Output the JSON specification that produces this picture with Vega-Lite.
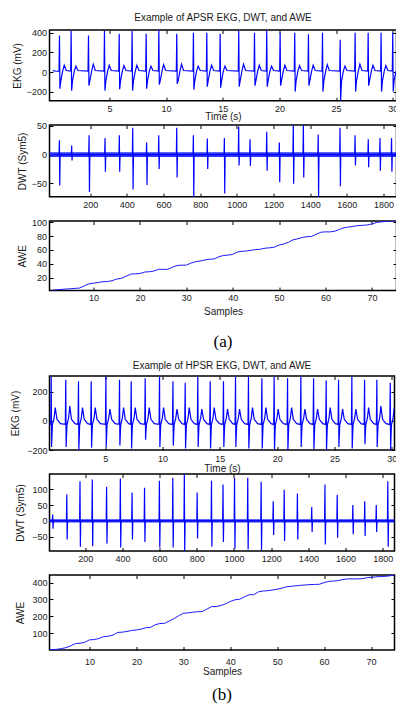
{
"$schema": "https://vega.github.io/schema/vega-lite/v6.json",
"background": "white",
"padding": {"left": 9.5, "top": 12, "right": 0, "bottom": 0},
"bounds": "flush",
"spacing": 24,
"config": {
 "font": "Liberation Sans",
 "view": {"stroke": "black", "strokeWidth": 1.5},
 "axis": {"grid": false, "domain": false, "ticks": true, "tickSize": -3.5, "tickColor": "black", "tickWidth": 1, "labelFont": "Liberation Sans", "labelFontSize": 9, "labelColor": "#1a1a1a", "labelFlush": false, "labelOverlap": false, "format": "d", "titleFont": "Liberation Sans", "titleFontSize": 10, "titleFontWeight": "normal", "titleColor": "#1a1a1a"},
 "title": {"font": "Liberation Sans", "fontSize": 10, "fontWeight": "normal", "color": "#1a1a1a"}
},
"datasets": {
 "ekg_a": [
  {"t":0,"v":15},{"t":0.3,"v":8},
  {"t":0.55,"v":10},{"t":0.59,"v":373},{"t":0.63,"v":-170},{"t":0.71,"v":-90},{"t":0.87,"v":10},{"t":1.01,"v":70},{"t":1.19,"v":15},
  {"t":1.58,"v":10},{"t":1.62,"v":420},{"t":1.66,"v":-190},{"t":1.74,"v":-90},{"t":1.9,"v":10},{"t":2.04,"v":60},{"t":2.22,"v":15},
  {"t":3.11,"v":10},{"t":3.15,"v":373},{"t":3.19,"v":-140},{"t":3.27,"v":-90},{"t":3.43,"v":10},{"t":3.57,"v":80},{"t":3.75,"v":15},
  {"t":4.52,"v":10},{"t":4.56,"v":420},{"t":4.6,"v":-190},{"t":4.68,"v":-90},{"t":4.84,"v":10},{"t":4.98,"v":70},{"t":5.16,"v":15},
  {"t":5.82,"v":10},{"t":5.86,"v":390},{"t":5.9,"v":-175},{"t":5.98,"v":-90},{"t":6.14,"v":10},{"t":6.28,"v":65},{"t":6.46,"v":15},
  {"t":6.96,"v":10},{"t":7.0,"v":420},{"t":7.04,"v":-190},{"t":7.12,"v":-90},{"t":7.28,"v":10},{"t":7.42,"v":70},{"t":7.6,"v":15},
  {"t":8.2,"v":10},{"t":8.24,"v":390},{"t":8.28,"v":-170},{"t":8.36,"v":-90},{"t":8.52,"v":10},{"t":8.66,"v":60},{"t":8.84,"v":15},
  {"t":9.32,"v":10},{"t":9.36,"v":430},{"t":9.4,"v":-130},{"t":9.48,"v":-90},{"t":9.64,"v":10},{"t":9.78,"v":75},{"t":9.96,"v":15},
  {"t":10.9,"v":10},{"t":10.94,"v":390},{"t":10.98,"v":-120},{"t":11.06,"v":-90},{"t":11.22,"v":10},{"t":11.36,"v":80},{"t":11.54,"v":15},
  {"t":12.37,"v":10},{"t":12.41,"v":400},{"t":12.45,"v":-180},{"t":12.53,"v":-90},{"t":12.69,"v":10},{"t":12.83,"v":60},{"t":13.01,"v":15},
  {"t":13.55,"v":10},{"t":13.59,"v":400},{"t":13.63,"v":-150},{"t":13.71,"v":-90},{"t":13.87,"v":10},{"t":14.01,"v":70},{"t":14.19,"v":15},
  {"t":14.73,"v":10},{"t":14.77,"v":390},{"t":14.81,"v":-160},{"t":14.89,"v":-90},{"t":15.05,"v":10},{"t":15.19,"v":60},{"t":15.37,"v":15},
  {"t":16.37,"v":10},{"t":16.41,"v":420},{"t":16.45,"v":-150},{"t":16.53,"v":-90},{"t":16.69,"v":10},{"t":16.83,"v":80},{"t":17.01,"v":15},
  {"t":17.76,"v":10},{"t":17.8,"v":400},{"t":17.84,"v":-140},{"t":17.92,"v":-90},{"t":18.08,"v":10},{"t":18.22,"v":70},{"t":18.4,"v":15},
  {"t":18.84,"v":10},{"t":18.88,"v":420},{"t":18.92,"v":-150},{"t":19.0,"v":-90},{"t":19.16,"v":10},{"t":19.3,"v":60},{"t":19.48,"v":15},
  {"t":20.02,"v":10},{"t":20.06,"v":400},{"t":20.1,"v":-140},{"t":20.18,"v":-90},{"t":20.34,"v":10},{"t":20.48,"v":70},{"t":20.66,"v":15},
  {"t":21.31,"v":10},{"t":21.35,"v":400},{"t":21.39,"v":-200},{"t":21.47,"v":-90},{"t":21.63,"v":10},{"t":21.77,"v":65},{"t":21.95,"v":15},
  {"t":22.52,"v":10},{"t":22.56,"v":385},{"t":22.6,"v":-140},{"t":22.68,"v":-90},{"t":22.84,"v":10},{"t":22.98,"v":70},{"t":23.16,"v":15},
  {"t":23.76,"v":10},{"t":23.8,"v":400},{"t":23.84,"v":-200},{"t":23.92,"v":-90},{"t":24.08,"v":10},{"t":24.22,"v":75},{"t":24.4,"v":15},
  {"t":25.32,"v":10},{"t":25.36,"v":330},{"t":25.4,"v":-290},{"t":25.48,"v":-90},{"t":25.64,"v":10},{"t":25.78,"v":60},{"t":25.96,"v":15},
  {"t":26.64,"v":10},{"t":26.68,"v":400},{"t":26.72,"v":-200},{"t":26.8,"v":-90},{"t":26.96,"v":10},{"t":27.1,"v":80},{"t":27.28,"v":15},
  {"t":27.79,"v":10},{"t":27.83,"v":400},{"t":27.87,"v":-140},{"t":27.95,"v":-90},{"t":28.11,"v":10},{"t":28.25,"v":70},{"t":28.43,"v":15},
  {"t":28.93,"v":10},{"t":28.97,"v":400},{"t":29.01,"v":-200},{"t":29.09,"v":-90},{"t":29.25,"v":10},{"t":29.39,"v":65},{"t":29.57,"v":15},
  {"t":29.96,"v":10},{"t":30.0,"v":400},{"t":30.04,"v":-200},{"t":30.12,"v":-90},{"t":30.28,"v":10}
 ],
 "dwt_a": [
  {"s":0,"v":0},
  {"s":30,"v":0},{"s":32,"v":25},{"s":34,"v":-54},{"s":36,"v":0},
  {"s":97,"v":0},{"s":99,"v":16},{"s":101,"v":-10},{"s":103,"v":0},
  {"s":192,"v":0},{"s":194,"v":34},{"s":196,"v":-65},{"s":198,"v":0},
  {"s":279,"v":0},{"s":281,"v":29},{"s":283,"v":-30},{"s":285,"v":0},
  {"s":357,"v":0},{"s":359,"v":34},{"s":361,"v":-30},{"s":363,"v":0},
  {"s":430,"v":0},{"s":432,"v":47},{"s":434,"v":-61},{"s":436,"v":0},
  {"s":506,"v":0},{"s":508,"v":21},{"s":510,"v":-53},{"s":512,"v":0},
  {"s":572,"v":0},{"s":574,"v":34},{"s":576,"v":-25},{"s":578,"v":0},
  {"s":670,"v":0},{"s":672,"v":47},{"s":674,"v":-40},{"s":676,"v":0},
  {"s":761,"v":0},{"s":763,"v":34},{"s":765,"v":-75},{"s":767,"v":0},
  {"s":837,"v":0},{"s":839,"v":28},{"s":841,"v":-25},{"s":843,"v":0},
  {"s":930,"v":0},{"s":932,"v":29},{"s":934,"v":-68},{"s":936,"v":0},
  {"s":1008,"v":0},{"s":1010,"v":49},{"s":1012,"v":-19},{"s":1014,"v":0},
  {"s":1070,"v":0},{"s":1072,"v":27},{"s":1074,"v":-20},{"s":1076,"v":0},
  {"s":1161,"v":0},{"s":1163,"v":40},{"s":1165,"v":-28},{"s":1167,"v":0},
  {"s":1230,"v":0},{"s":1232,"v":21},{"s":1234,"v":-48},{"s":1236,"v":0},
  {"s":1306,"v":0},{"s":1308,"v":55},{"s":1310,"v":-51},{"s":1312,"v":0},
  {"s":1361,"v":0},{"s":1363,"v":55},{"s":1365,"v":-40},{"s":1367,"v":0},
  {"s":1442,"v":0},{"s":1444,"v":35},{"s":1446,"v":-75},{"s":1448,"v":0},
  {"s":1561,"v":0},{"s":1563,"v":47},{"s":1565,"v":-55},{"s":1567,"v":0},
  {"s":1643,"v":0},{"s":1645,"v":34},{"s":1647,"v":-19},{"s":1649,"v":0},
  {"s":1715,"v":0},{"s":1717,"v":27},{"s":1719,"v":-22},{"s":1721,"v":0},
  {"s":1779,"v":0},{"s":1781,"v":29},{"s":1783,"v":-28},{"s":1785,"v":0},
  {"s":1842,"v":0},{"s":1844,"v":29},{"s":1846,"v":-30},{"s":1848,"v":0},
  {"s":1871,"v":0}
 ],
 "band_a": [{"s":-22,"lo":-4,"hi":4},{"s":1871,"lo":-4,"hi":4}],
 "awe_a": [
  {"s":1,"v":1.5},{"s":2,"v":2.5},{"s":3,"v":3},{"s":4,"v":3.5},{"s":5,"v":4},{"s":6,"v":4.5},{"s":7,"v":5},{"s":8,"v":8},{"s":9,"v":11},{"s":10,"v":12},
  {"s":11,"v":13},{"s":12,"v":14},{"s":13,"v":14.5},{"s":14,"v":15.5},{"s":15,"v":18},{"s":16,"v":19},{"s":17,"v":22},{"s":18,"v":25},{"s":19,"v":25.5},{"s":20,"v":26},
  {"s":21,"v":28},{"s":22,"v":28.5},{"s":23,"v":29.5},{"s":24,"v":32},{"s":25,"v":32},{"s":26,"v":32},{"s":27,"v":35},{"s":28,"v":37.5},{"s":29,"v":38},{"s":30,"v":38},
  {"s":31,"v":41},{"s":32,"v":43},{"s":33,"v":44},{"s":34,"v":45.5},{"s":35,"v":46.5},{"s":36,"v":47},{"s":37,"v":50},{"s":38,"v":52},{"s":39,"v":52.5},{"s":40,"v":53.5},
  {"s":41,"v":57},{"s":42,"v":58},{"s":43,"v":58.5},{"s":44,"v":59.5},{"s":45,"v":60.5},{"s":46,"v":61},{"s":47,"v":62.5},{"s":48,"v":63},{"s":49,"v":64},{"s":50,"v":67},
  {"s":51,"v":68.5},{"s":52,"v":71},{"s":53,"v":74.5},{"s":54,"v":76},{"s":55,"v":78},{"s":56,"v":79},{"s":57,"v":79.5},{"s":58,"v":82.5},{"s":59,"v":85.5},{"s":60,"v":86},
  {"s":61,"v":86},{"s":62,"v":87},{"s":63,"v":89.5},{"s":64,"v":92},{"s":65,"v":93},{"s":66,"v":94},{"s":67,"v":95},{"s":68,"v":95.5},{"s":69,"v":96},{"s":70,"v":97.5},
  {"s":71,"v":99.5},{"s":72,"v":100.5},{"s":73,"v":101},{"s":74,"v":101.5},{"s":75,"v":101.5}
 ],
 "ekg_b": [
  {"t":0,"v":-10},{"t":0.2,"v":-25},
  {"t":0.25,"v":-25},{"t":0.29,"v":300},{"t":0.32,"v":-180},{"t":0.39,"v":-30},{"t":0.54,"v":20},{"t":0.64,"v":90},{"t":0.79,"v":10},{"t":1.09,"v":-20},
  {"t":1.52,"v":-25},{"t":1.56,"v":280},{"t":1.59,"v":-180},{"t":1.66,"v":-30},{"t":1.81,"v":20},{"t":1.91,"v":100},{"t":2.06,"v":10},{"t":2.36,"v":-20},
  {"t":2.63,"v":-25},{"t":2.67,"v":270},{"t":2.7,"v":-200},{"t":2.77,"v":-30},{"t":2.92,"v":20},{"t":3.02,"v":90},{"t":3.17,"v":10},{"t":3.47,"v":-20},
  {"t":3.74,"v":-25},{"t":3.78,"v":270},{"t":3.81,"v":-185},{"t":3.88,"v":-30},{"t":4.03,"v":20},{"t":4.13,"v":90},{"t":4.28,"v":10},{"t":4.58,"v":-20},
  {"t":5.02,"v":-25},{"t":5.06,"v":300},{"t":5.09,"v":-180},{"t":5.16,"v":-30},{"t":5.31,"v":20},{"t":5.41,"v":80},{"t":5.56,"v":10},{"t":5.86,"v":-20},
  {"t":6.21,"v":-25},{"t":6.25,"v":280},{"t":6.28,"v":-170},{"t":6.35,"v":-30},{"t":6.5,"v":20},{"t":6.6,"v":90},{"t":6.75,"v":10},{"t":7.05,"v":-20},
  {"t":7.23,"v":-25},{"t":7.27,"v":270},{"t":7.3,"v":-190},{"t":7.37,"v":-30},{"t":7.52,"v":20},{"t":7.62,"v":90},{"t":7.77,"v":10},{"t":8.07,"v":-20},
  {"t":8.45,"v":-25},{"t":8.49,"v":290},{"t":8.52,"v":-130},{"t":8.59,"v":-30},{"t":8.74,"v":20},{"t":8.84,"v":90},{"t":8.99,"v":10},{"t":9.29,"v":-20},
  {"t":9.7,"v":-25},{"t":9.74,"v":300},{"t":9.77,"v":-180},{"t":9.84,"v":-30},{"t":9.99,"v":20},{"t":10.09,"v":90},{"t":10.24,"v":10},{"t":10.54,"v":-20},
  {"t":10.87,"v":-25},{"t":10.91,"v":270},{"t":10.94,"v":-170},{"t":11.01,"v":-30},{"t":11.16,"v":20},{"t":11.26,"v":80},{"t":11.41,"v":10},{"t":11.71,"v":-20},
  {"t":11.94,"v":-25},{"t":11.98,"v":260},{"t":12.01,"v":-190},{"t":12.08,"v":-30},{"t":12.23,"v":20},{"t":12.33,"v":90},{"t":12.48,"v":10},{"t":12.78,"v":-20},
  {"t":13.04,"v":-25},{"t":13.08,"v":300},{"t":13.11,"v":-180},{"t":13.18,"v":-30},{"t":13.33,"v":20},{"t":13.43,"v":80},{"t":13.58,"v":10},{"t":13.88,"v":-20},
  {"t":14.12,"v":-25},{"t":14.16,"v":270},{"t":14.19,"v":-190},{"t":14.26,"v":-30},{"t":14.41,"v":20},{"t":14.51,"v":90},{"t":14.66,"v":10},{"t":14.96,"v":-20},
  {"t":15.28,"v":-25},{"t":15.32,"v":270},{"t":15.35,"v":-180},{"t":15.42,"v":-30},{"t":15.57,"v":20},{"t":15.67,"v":80},{"t":15.82,"v":10},{"t":16.12,"v":-20},
  {"t":16.33,"v":-25},{"t":16.37,"v":300},{"t":16.4,"v":-180},{"t":16.47,"v":-30},{"t":16.62,"v":20},{"t":16.72,"v":80},{"t":16.87,"v":10},{"t":17.17,"v":-20},
  {"t":17.46,"v":-25},{"t":17.5,"v":300},{"t":17.53,"v":-190},{"t":17.6,"v":-30},{"t":17.75,"v":20},{"t":17.85,"v":90},{"t":18.0,"v":10},{"t":18.3,"v":-20},
  {"t":18.63,"v":-25},{"t":18.67,"v":290},{"t":18.7,"v":-190},{"t":18.77,"v":-30},{"t":18.92,"v":20},{"t":19.02,"v":90},{"t":19.17,"v":10},{"t":19.47,"v":-20},
  {"t":19.7,"v":-25},{"t":19.74,"v":300},{"t":19.77,"v":-195},{"t":19.84,"v":-30},{"t":19.99,"v":20},{"t":20.09,"v":80},{"t":20.24,"v":10},{"t":20.54,"v":-20},
  {"t":20.87,"v":-25},{"t":20.91,"v":290},{"t":20.94,"v":-200},{"t":21.01,"v":-30},{"t":21.16,"v":20},{"t":21.26,"v":90},{"t":21.41,"v":10},{"t":21.71,"v":-20},
  {"t":22.03,"v":-25},{"t":22.07,"v":300},{"t":22.1,"v":-180},{"t":22.17,"v":-30},{"t":22.32,"v":20},{"t":22.42,"v":80},{"t":22.57,"v":10},{"t":22.87,"v":-20},
  {"t":23.14,"v":-25},{"t":23.18,"v":290},{"t":23.21,"v":-195},{"t":23.28,"v":-30},{"t":23.43,"v":20},{"t":23.53,"v":80},{"t":23.68,"v":10},{"t":23.98,"v":-20},
  {"t":24.24,"v":-25},{"t":24.28,"v":275},{"t":24.31,"v":-200},{"t":24.38,"v":-30},{"t":24.53,"v":20},{"t":24.63,"v":90},{"t":24.78,"v":10},{"t":25.08,"v":-20},
  {"t":25.32,"v":-25},{"t":25.36,"v":280},{"t":25.39,"v":-180},{"t":25.46,"v":-30},{"t":25.61,"v":20},{"t":25.71,"v":80},{"t":25.86,"v":10},{"t":26.16,"v":-20},
  {"t":26.48,"v":-25},{"t":26.52,"v":300},{"t":26.55,"v":-190},{"t":26.62,"v":-30},{"t":26.77,"v":20},{"t":26.87,"v":80},{"t":27.02,"v":10},{"t":27.32,"v":-20},
  {"t":27.59,"v":-25},{"t":27.63,"v":280},{"t":27.66,"v":-160},{"t":27.73,"v":-30},{"t":27.88,"v":20},{"t":27.98,"v":90},{"t":28.13,"v":10},{"t":28.43,"v":-20},
  {"t":28.66,"v":-25},{"t":28.7,"v":280},{"t":28.73,"v":-180},{"t":28.8,"v":-30},{"t":28.95,"v":20},{"t":29.05,"v":100},{"t":29.2,"v":10},{"t":29.5,"v":-20},
  {"t":29.83,"v":-25},{"t":29.87,"v":260},{"t":29.9,"v":-200},{"t":29.97,"v":-30},{"t":30.12,"v":20},{"t":30.22,"v":90}
 ],
 "dwt_b": [
  {"s":0,"v":0},
  {"s":23,"v":0},{"s":25,"v":20},{"s":27,"v":-25},{"s":29,"v":0},
  {"s":99,"v":0},{"s":101,"v":84},{"s":103,"v":-59},{"s":105,"v":0},
  {"s":170,"v":0},{"s":172,"v":126},{"s":174,"v":-82},{"s":176,"v":0},
  {"s":236,"v":0},{"s":238,"v":131},{"s":240,"v":-80},{"s":242,"v":0},
  {"s":313,"v":0},{"s":315,"v":108},{"s":317,"v":-72},{"s":319,"v":0},
  {"s":387,"v":0},{"s":389,"v":134},{"s":391,"v":-84},{"s":393,"v":0},
  {"s":450,"v":0},{"s":452,"v":90},{"s":454,"v":-59},{"s":456,"v":0},
  {"s":517,"v":0},{"s":519,"v":105},{"s":521,"v":-67},{"s":523,"v":0},
  {"s":597,"v":0},{"s":599,"v":127},{"s":601,"v":-84},{"s":603,"v":0},
  {"s":669,"v":0},{"s":671,"v":137},{"s":673,"v":-84},{"s":675,"v":0},
  {"s":731,"v":0},{"s":733,"v":150},{"s":735,"v":-100},{"s":737,"v":0},
  {"s":800,"v":0},{"s":802,"v":90},{"s":804,"v":-56},{"s":806,"v":0},
  {"s":877,"v":0},{"s":879,"v":127},{"s":881,"v":-82},{"s":883,"v":0},
  {"s":939,"v":0},{"s":941,"v":115},{"s":943,"v":-67},{"s":945,"v":0},
  {"s":1001,"v":0},{"s":1003,"v":136},{"s":1005,"v":-88},{"s":1007,"v":0},
  {"s":1072,"v":0},{"s":1074,"v":137},{"s":1076,"v":-91},{"s":1078,"v":0},
  {"s":1144,"v":0},{"s":1146,"v":124},{"s":1148,"v":-93},{"s":1150,"v":0},
  {"s":1209,"v":0},{"s":1211,"v":62},{"s":1213,"v":-45},{"s":1215,"v":0},
  {"s":1268,"v":0},{"s":1270,"v":99},{"s":1272,"v":-64},{"s":1274,"v":0},
  {"s":1339,"v":0},{"s":1341,"v":87},{"s":1343,"v":-59},{"s":1345,"v":0},
  {"s":1416,"v":0},{"s":1418,"v":44},{"s":1420,"v":-35},{"s":1422,"v":0},
  {"s":1487,"v":0},{"s":1489,"v":115},{"s":1491,"v":-75},{"s":1493,"v":0},
  {"s":1553,"v":0},{"s":1555,"v":83},{"s":1557,"v":-53},{"s":1559,"v":0},
  {"s":1637,"v":0},{"s":1639,"v":50},{"s":1641,"v":-42},{"s":1643,"v":0},
  {"s":1701,"v":0},{"s":1703,"v":62},{"s":1705,"v":-48},{"s":1707,"v":0},
  {"s":1763,"v":0},{"s":1765,"v":50},{"s":1767,"v":-35},{"s":1769,"v":0},
  {"s":1825,"v":0},{"s":1827,"v":126},{"s":1829,"v":-82},{"s":1831,"v":0},
  {"s":1863,"v":0}
 ],
 "band_b": [{"s":8,"lo":-5,"hi":5},{"s":1863,"lo":-5,"hi":5}],
 "awe_b": [
  {"s":1,"v":0},{"s":2,"v":2},{"s":3,"v":4},{"s":4,"v":8},{"s":5,"v":14},{"s":6,"v":25},{"s":7,"v":38},{"s":8,"v":40},{"s":9,"v":46},{"s":10,"v":60},
  {"s":11,"v":62},{"s":12,"v":68},{"s":13,"v":79},{"s":14,"v":82},{"s":15,"v":88},{"s":16,"v":104},{"s":17,"v":106},{"s":18,"v":110},{"s":19,"v":116},{"s":20,"v":119},
  {"s":21,"v":124},{"s":22,"v":132},{"s":23,"v":134},{"s":24,"v":150},{"s":25,"v":157},{"s":26,"v":158},{"s":27,"v":172},{"s":28,"v":186},{"s":29,"v":203},{"s":30,"v":218},
  {"s":31,"v":220},{"s":32,"v":224},{"s":33,"v":227},{"s":34,"v":228},{"s":35,"v":242},{"s":36,"v":257},{"s":37,"v":258},{"s":38,"v":264},{"s":39,"v":274},{"s":40,"v":288},
  {"s":41,"v":298},{"s":42,"v":301},{"s":43,"v":315},{"s":44,"v":328},{"s":45,"v":328},{"s":46,"v":345},{"s":47,"v":350},{"s":48,"v":352},{"s":49,"v":356},{"s":50,"v":361},
  {"s":51,"v":367},{"s":52,"v":375},{"s":53,"v":378},{"s":54,"v":381},{"s":55,"v":384},{"s":56,"v":386},{"s":57,"v":388},{"s":58,"v":389},{"s":59,"v":390},{"s":60,"v":400},
  {"s":61,"v":407},{"s":62,"v":409},{"s":63,"v":412},{"s":64,"v":418},{"s":65,"v":422},{"s":66,"v":422},{"s":67,"v":422},{"s":68,"v":423},{"s":69,"v":428},{"s":70,"v":432},
  {"s":71,"v":434},{"s":72,"v":436},{"s":73,"v":437},{"s":74,"v":440},{"s":75,"v":445}
 ]
},
"vconcat": [
 {
  "title": {"text": "Example of APSR EKG, DWT, and AWE", "offset": 6},
  "width": 347, "height": 70.7,
  "data": {"name": "ekg_a"},
  "layer": [
   {"mark": {"type": "line", "color": "#0000ff", "strokeWidth": 1.2, "clip": true},
    "encoding": {
     "x": {"field": "t", "type": "quantitative", "scale": {"domain": [-0.29, 30.33], "nice": false, "zero": false}, "axis": {"orient": "bottom", "values": [5,10,15,20,25,30], "title": "Time (s)", "labelPadding": 7.5, "titlePadding": -2.7}},
     "y": {"field": "v", "type": "quantitative", "scale": {"domain": [-293, 429], "nice": false, "zero": false}, "axis": {"orient": "left", "values": [-200,0,200,400], "title": "EKG (mV)", "labelPadding": 6.5, "titlePadding": 4}}
    }},
   {"mark": {"type": "line", "strokeOpacity": 0},
    "encoding": {
     "x": {"field": "t", "type": "quantitative", "scale": {"domain": [-0.29, 30.33], "nice": false, "zero": false}, "axis": {"orient": "top", "values": [5,10,15,20,25,30], "labels": false, "title": null}},
     "y": {"field": "v", "type": "quantitative", "scale": {"domain": [-293, 429], "nice": false, "zero": false}, "axis": {"orient": "right", "values": [-200,0,200,400], "labels": false, "title": null}}
    }}
  ],
  "resolve": {"axis": {"x": "independent", "y": "independent"}}
 },
 {
  "width": 347, "height": 71.7,
  "layer": [
   {"data": {"name": "band_a"},
    "mark": {"type": "area", "color": "#0a14ff", "opacity": 0.85, "clip": true},
    "encoding": {
     "x": {"field": "s", "type": "quantitative", "scale": {"domain": [-22, 1871], "nice": false, "zero": false}, "axis": {"orient": "top", "values": [200,400,600,800,1000,1200,1400,1600,1800], "labels": false, "title": null}},
     "y": {"field": "lo", "type": "quantitative", "scale": {"domain": [-73.4, 51.7], "nice": false, "zero": false}, "axis": {"orient": "right", "values": [-50,0,50], "labels": false, "title": null}},
     "y2": {"field": "hi"}
    }},
   {"data": {"name": "dwt_a"},
    "mark": {"type": "line", "color": "#0000ff", "strokeWidth": 1.2, "clip": true},
    "encoding": {
     "x": {"field": "s", "type": "quantitative", "scale": {"domain": [-22, 1871], "nice": false, "zero": false}, "axis": {"orient": "bottom", "values": [200,400,600,800,1000,1200,1400,1600,1800], "title": null, "labelPadding": 6.8}},
     "y": {"field": "v", "type": "quantitative", "scale": {"domain": [-73.4, 51.7], "nice": false, "zero": false}, "axis": {"orient": "left", "values": [-50,0,50], "title": "DWT (Sym5)", "labelPadding": 6.5, "titlePadding": 3.8}}
    }}
  ],
  "resolve": {"axis": {"x": "independent", "y": "independent"}}
 },
 {
  "width": 347, "height": 69.6,
  "data": {"name": "awe_a"},
  "layer": [
   {"mark": {"type": "line", "color": "#1a1aff", "strokeWidth": 1, "clip": true},
    "encoding": {
     "x": {"field": "s", "type": "quantitative", "scale": {"domain": [0.52, 75.3], "nice": false, "zero": false}, "axis": {"orient": "bottom", "values": [10,20,30,40,50,60,70], "title": "Samples", "labelPadding": 6.6, "titlePadding": 3.6}},
     "y": {"field": "v", "type": "quantitative", "scale": {"domain": [1.3, 101.7], "nice": false, "zero": false}, "axis": {"orient": "left", "values": [20,40,60,80,100], "title": "AWE", "labelPadding": 6.5, "titlePadding": 4.3}}
    }},
   {"mark": {"type": "line", "strokeOpacity": 0},
    "encoding": {
     "x": {"field": "s", "type": "quantitative", "scale": {"domain": [0.52, 75.3], "nice": false, "zero": false}, "axis": {"orient": "top", "values": [10,20,30,40,50,60,70], "labels": false, "title": null}},
     "y": {"field": "v", "type": "quantitative", "scale": {"domain": [1.3, 101.7], "nice": false, "zero": false}, "axis": {"orient": "right", "values": [20,40,60,80,100], "labels": false, "title": null}}
    }}
  ],
  "resolve": {"axis": {"x": "independent", "y": "independent"}}
 },
 {
  "width": 347, "height": 37,
  "view": {"stroke": null},
  "data": {"values": [{"label": "(a)"}]},
  "mark": {"type": "text", "font": "Liberation Serif", "fontSize": 17, "baseline": "alphabetic", "dy": 13.2, "color": "black"},
  "encoding": {"text": {"field": "label", "type": "nominal"}}
 },
 {
  "title": {"text": "Example of HPSR EKG, DWT, and AWE", "offset": 4.5},
  "width": 345, "height": 74,
  "data": {"name": "ekg_b"},
  "layer": [
   {"mark": {"type": "line", "color": "#0000ff", "strokeWidth": 1.2, "clip": true},
    "encoding": {
     "x": {"field": "t", "type": "quantitative", "scale": {"domain": [0.14, 30.24], "nice": false, "zero": false}, "axis": {"orient": "bottom", "values": [5,10,15,20,25,30], "title": "Time (s)", "labelPadding": 7.5, "titlePadding": 0.5}},
     "y": {"field": "v", "type": "quantitative", "scale": {"domain": [-200, 306], "nice": false, "zero": false}, "axis": {"orient": "left", "values": [-200,0,200], "title": "EKG (mV)", "labelPadding": 6, "titlePadding": 6}}
    }},
   {"mark": {"type": "line", "strokeOpacity": 0},
    "encoding": {
     "x": {"field": "t", "type": "quantitative", "scale": {"domain": [0.14, 30.24], "nice": false, "zero": false}, "axis": {"orient": "top", "values": [5,10,15,20,25,30], "labels": false, "title": null}},
     "y": {"field": "v", "type": "quantitative", "scale": {"domain": [-200, 306], "nice": false, "zero": false}, "axis": {"orient": "right", "values": [-200,0,200], "labels": false, "title": null}}
    }}
  ],
  "resolve": {"axis": {"x": "independent", "y": "independent"}}
 },
 {
  "width": 345, "height": 77,
  "layer": [
   {"data": {"name": "band_b"},
    "mark": {"type": "area", "color": "#0a14ff", "opacity": 0.85, "clip": true},
    "encoding": {
     "x": {"field": "s", "type": "quantitative", "scale": {"domain": [8, 1863], "nice": false, "zero": false}, "axis": {"orient": "top", "values": [200,400,600,800,1000,1200,1400,1600,1800], "labels": false, "title": null}},
     "y": {"field": "lo", "type": "quantitative", "scale": {"domain": [-95.4, 148.6], "nice": false, "zero": false}, "axis": {"orient": "right", "values": [-50,0,50,100], "labels": false, "title": null}},
     "y2": {"field": "hi"}
    }},
   {"data": {"name": "dwt_b"},
    "mark": {"type": "line", "color": "#0000ff", "strokeWidth": 1.2, "clip": true},
    "encoding": {
     "x": {"field": "s", "type": "quantitative", "scale": {"domain": [8, 1863], "nice": false, "zero": false}, "axis": {"orient": "bottom", "values": [200,400,600,800,1000,1200,1400,1600,1800], "title": null, "labelPadding": 6.6}},
     "y": {"field": "v", "type": "quantitative", "scale": {"domain": [-95.4, 148.6], "nice": false, "zero": false}, "axis": {"orient": "left", "values": [-50,0,50,100], "title": "DWT (Sym5)", "labelPadding": 6, "titlePadding": 6.7}}
    }}
  ],
  "resolve": {"axis": {"x": "independent", "y": "independent"}}
 },
 {
  "width": 345, "height": 75,
  "data": {"name": "awe_b"},
  "layer": [
   {"mark": {"type": "line", "color": "#1a1aff", "strokeWidth": 1, "clip": true},
    "encoding": {
     "x": {"field": "s", "type": "quantitative", "scale": {"domain": [1.48, 75], "nice": false, "zero": false}, "axis": {"orient": "bottom", "values": [10,20,30,40,50,60,70], "title": "Samples", "labelPadding": 11.2, "titlePadding": -0.7}},
     "y": {"field": "v", "type": "quantitative", "scale": {"domain": [0, 445], "nice": false, "zero": false}, "axis": {"orient": "left", "values": [100,200,300,400], "title": "AWE", "labelPadding": 6, "titlePadding": 6}}
    }},
   {"mark": {"type": "line", "strokeOpacity": 0},
    "encoding": {
     "x": {"field": "s", "type": "quantitative", "scale": {"domain": [1.48, 75], "nice": false, "zero": false}, "axis": {"orient": "top", "values": [10,20,30,40,50,60,70], "labels": false, "title": null}},
     "y": {"field": "v", "type": "quantitative", "scale": {"domain": [0, 445], "nice": false, "zero": false}, "axis": {"orient": "right", "values": [100,200,300,400], "labels": false, "title": null}}
    }}
  ],
  "resolve": {"axis": {"x": "independent", "y": "independent"}}
 },
 {
  "width": 345, "height": 34,
  "view": {"stroke": null},
  "data": {"values": [{"label": "(b)"}]},
  "mark": {"type": "text", "font": "Liberation Serif", "fontSize": 17, "baseline": "alphabetic", "dy": 9.4, "color": "black"},
  "encoding": {"text": {"field": "label", "type": "nominal"}}
 }
]
}
